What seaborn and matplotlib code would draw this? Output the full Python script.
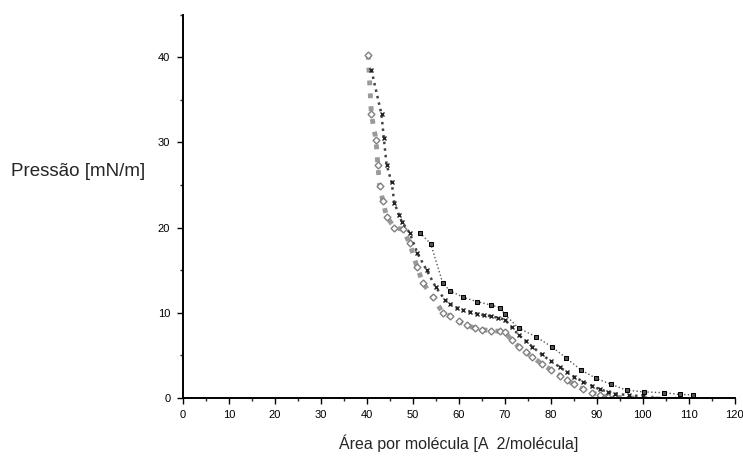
## load packages
import pandas as pd
import numpy as np
import matplotlib

matplotlib.use("Agg")
import matplotlib.pyplot as plt
import seaborn as sns
from matplotlib.ticker import MultipleLocator

## data read off the scanned isotherms
# curve A: open diamonds, lower band
area_a = [40.3, 41.0, 42.0, 42.4, 42.8, 43.5, 44.3, 46.0, 47.8, 49.3, 50.9, 52.2,
          54.3, 56.5, 58.0, 60.0, 61.7, 63.5, 65.0, 67.0, 69.0, 70.0, 71.5, 73.0,
          74.5, 76.0, 78.0, 80.0, 82.0, 83.5, 85.0, 87.0, 89.0, 90.6, 92.5, 94.0,
          97.0, 102.0, 107.0]
pres_a = [40.3, 33.3, 30.3, 27.3, 24.9, 23.1, 21.3, 20.0, 19.8, 18.2, 15.4, 13.5,
          11.9, 10.0, 9.6, 9.0, 8.5, 8.2, 8.0, 7.9, 7.8, 7.7, 6.8, 6.0,
          5.4, 4.8, 4.0, 3.3, 2.6, 2.1, 1.6, 1.0, 0.6, 0.3, 0.1, 0.05,
          0.0, -0.1, -0.2]

# curve B: crosses, middle band
area_b = [41.0, 43.2, 43.7, 44.3, 45.4, 46.0, 47.0, 47.6, 49.3, 51.0, 53.0, 55.0,
          57.0, 58.0, 59.5, 61.0, 62.5, 64.0, 65.5, 67.0, 68.5, 70.0, 71.5, 73.0,
          74.5, 76.0, 78.0, 80.0, 82.0, 83.5, 85.0, 87.0, 89.0, 90.6, 92.5, 94.0,
          97.0, 100.0]
pres_b = [38.5, 33.3, 30.5, 27.4, 25.3, 22.9, 21.5, 20.7, 19.4, 17.0, 15.0, 13.0,
          11.5, 11.0, 10.6, 10.3, 10.1, 9.9, 9.7, 9.6, 9.4, 9.2, 8.3, 7.4,
          6.7, 6.0, 5.1, 4.3, 3.6, 3.0, 2.5, 1.9, 1.4, 1.0, 0.7, 0.5,
          0.3, 0.2]

# curve C: squares, upper curve
area_c = [51.5, 53.9, 56.5, 58.0, 61.0, 64.0, 67.0, 69.0, 70.0, 73.0, 76.7, 80.2,
          83.3, 86.5, 89.8, 93.0, 96.5, 100.2, 104.6, 108.0, 111.0]
pres_c = [19.4, 18.1, 13.5, 12.6, 11.8, 11.3, 10.9, 10.6, 9.8, 8.2, 7.2, 6.0,
          4.7, 3.3, 2.3, 1.6, 0.9, 0.7, 0.6, 0.4, 0.35]

x_label = "Área por molécula [A  2/molécula]"
y_label = "Pressão [mN/m]"

## set theme
sns.set_theme(style="ticks")
plt.rcParams["font.family"] = ["Liberation Sans", "DejaVu Sans"]

fig = plt.figure(figsize=(7.43, 4.61), dpi=100)
ax = fig.add_axes([0.246, 0.137, 0.743, 0.831])

df_a = pd.DataFrame({"area": area_a, "pres": pres_a})
df_b = pd.DataFrame({"area": area_b, "pres": pres_b})
df_c = pd.DataFrame({"area": area_c, "pres": pres_c})

# lower band: thick grey trace with small open diamonds
sns.lineplot(data=df_a, x="area", y="pres", sort=False, ax=ax, color="#9a9a9a",
             linewidth=3.5, linestyle=":", marker="D", markersize=3.5,
             markerfacecolor="white", markeredgecolor="#808080", markeredgewidth=1)
# middle band: dark crosses
sns.lineplot(data=df_b, x="area", y="pres", sort=False, ax=ax, color="#444444",
             linewidth=1.8, linestyle=":", marker="x", markersize=3.5,
             markeredgecolor="#222222", markeredgewidth=1)
# upper curve: sparse squares
sns.lineplot(data=df_c, x="area", y="pres", sort=False, ax=ax, color="#555555",
             linewidth=1, linestyle=":", marker="s", markersize=3.5,
             markerfacecolor="#555555", markeredgecolor="black")

ax.set_xlim(0, 120)
ax.set_ylim(0, 45)
ax.xaxis.set_major_locator(MultipleLocator(10))
ax.xaxis.set_minor_locator(MultipleLocator(5))
ax.yaxis.set_major_locator(MultipleLocator(10))
ax.yaxis.set_minor_locator(MultipleLocator(5))
ax.set_yticks([0, 10, 20, 30, 40])
ax.tick_params(which="major", direction="out", length=4, width=1, labelsize=8,
               colors="black", pad=5)
ax.tick_params(which="minor", direction="out", length=2.5, width=1)

sns.despine(ax=ax)
for side in ["left", "bottom"]:
    ax.spines[side].set_linewidth(1.4)
    ax.spines[side].set_color("black")

ax.set_xlabel(x_label, fontsize=11.5, labelpad=10)
ax.set_ylabel(y_label, fontsize=13.5, rotation=0, ha="center", va="center")
ax.yaxis.set_label_coords(-0.19, 0.59)

fig.savefig("out.png", dpi=100)
plt.close()
